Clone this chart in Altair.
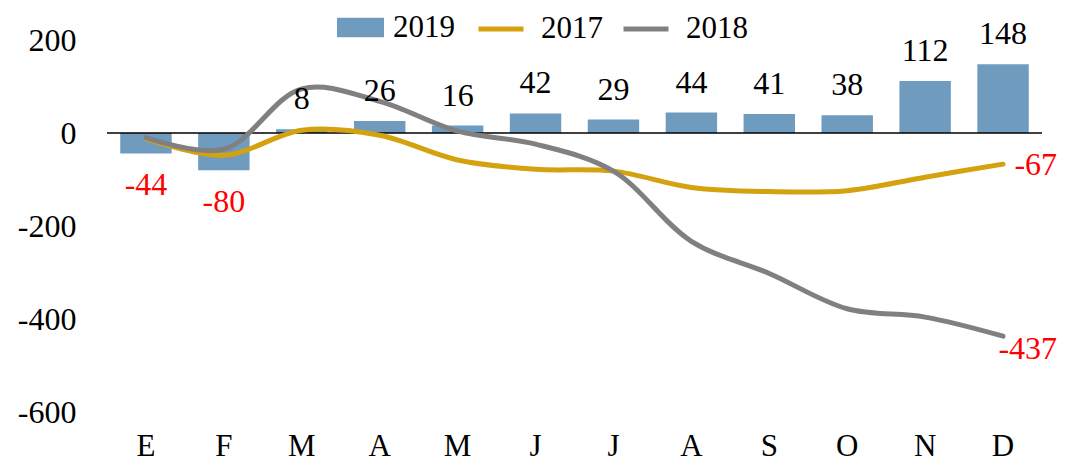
import json
import altair as alt
import pandas as pd

month_labels = ["E", "F", "M", "A", "M", "J", "J", "A", "S", "O", "N", "D"]
values_2019 = [-44, -80, 8, 26, 16, 42, 29, 44, 41, 38, 112, 148]
values_2017 = [-12, -48, 6, -5, -58, -78, -82, -117, -126, -124, -95, -67]
values_2018 = [-10, -35, 95, 68, 4, -24, -82, -233, -302, -378, -396, -437]
bar_series = ["2019"]
line_series = ["2017", "2018"]
bar_color = ["#6F9BBF"]
line_colors = ["#D4A20E", "#808080"]
y_ticks = [200, 0, -200, -400, -600]

FONT = "'Liberation Serif', 'Times New Roman', 'DejaVu Serif', serif"
idx = list(range(1, len(month_labels) + 1))

bars = pd.DataFrame({"idx": idx, "value": values_2019, "serie": bar_series[0]})
lines = pd.DataFrame({
    "idx": idx * 2,
    "value": values_2017 + values_2018,
    "serie": [line_series[0]] * len(idx) + [line_series[1]] * len(idx),
})
zero = pd.DataFrame({"y": [0]})

x_enc = alt.X(
    "idx:O",
    scale=alt.Scale(paddingInner=0.34, paddingOuter=0.17),
    axis=alt.Axis(
        title=None, labelAngle=0, ticks=False, domain=False, labelPadding=43,
        labelBaseline="alphabetic",
        labelFontSize=31, labelFont=FONT, labelColor="black",
        labelExpr=f"{json.dumps(month_labels)}[datum.value - 1]",
    ),
)
y_scale = alt.Scale(domain=[-600, 200], nice=False)
y_enc = alt.Y(
    "value:Q",
    scale=y_scale,
    axis=alt.Axis(
        title=None, values=y_ticks, ticks=False, domain=False, grid=False,
        labelPadding=31, labelFontSize=32, labelFont=FONT, labelColor="black",
        labelExpr="'' + datum.value",
    ),
)

bar_layer = alt.Chart(bars).mark_bar().encode(
    x=x_enc,
    y=y_enc,
    fill=alt.Fill(
        "serie:N",
        scale=alt.Scale(domain=bar_series, range=bar_color),
        legend=alt.Legend(
            title=None, orient="none", legendX=230, legendY=-36, padding=0,
            symbolType="M-1,-0.42H1V0.42H-1Z", symbolSize=2209, symbolStrokeWidth=0,
            labelFont=FONT, labelFontSize=31, labelOffset=9, labelColor="black",
        ),
    ),
)

zero_layer = alt.Chart(zero).mark_rule(color="black", strokeWidth=1.5).encode(
    y=alt.Y("y:Q", scale=y_scale)
)

line_layer = alt.Chart(lines).mark_line(
    interpolate="catmull-rom", strokeWidth=5, strokeCap="round"
).encode(
    x=alt.X("idx:O"),
    y=alt.Y("value:Q", scale=y_scale),
    stroke=alt.Stroke(
        "serie:N",
        scale=alt.Scale(domain=line_series, range=line_colors),
        legend=alt.Legend(
            title=None, orient="none", legendX=369, legendY=-36, padding=0,
            direction="horizontal", columns=2,
            symbolType="stroke", symbolSize=2025, symbolStrokeWidth=5,
            labelFont=FONT, labelFontSize=31, labelOffset=15, columnPadding=10,
            labelColor="black",
        ),
    ),
)

pos_labels = alt.Chart(bars).transform_filter("datum.value >= 0").transform_calculate(
    lab="'' + datum.value"
).mark_text(font=FONT, fontSize=32, dy=-30, color="black", baseline="middle").encode(
    x=alt.X("idx:O"), y=alt.Y("value:Q", scale=y_scale), text="lab:N"
)
neg_labels = alt.Chart(bars).transform_filter("datum.value < 0").transform_calculate(
    lab="'' + datum.value"
).mark_text(font=FONT, fontSize=32, dy=32, color="#FF0000", baseline="middle").encode(
    x=alt.X("idx:O"), y=alt.Y("value:Q", scale=y_scale), text="lab:N"
)

last = len(month_labels)
end_2017 = alt.Chart(lines).transform_filter(
    f"datum.idx == {last} && datum.serie == '{line_series[0]}'"
).transform_calculate(lab="'' + datum.value").mark_text(
    font=FONT, fontSize=32, dx=54, dy=1, align="right", baseline="middle", color="#FF0000"
).encode(x=alt.X("idx:O"), y=alt.Y("value:Q", scale=y_scale), text="lab:N")

end_2018 = alt.Chart(lines).transform_filter(
    f"datum.idx == {last} && datum.serie == '{line_series[1]}'"
).transform_calculate(lab="'' + datum.value").mark_text(
    font=FONT, fontSize=32, dx=54, dy=13, align="right", baseline="middle", color="#FF0000"
).encode(x=alt.X("idx:O"), y=alt.Y("value:Q", scale=y_scale), text="lab:N")

chart = alt.layer(
    bar_layer, zero_layer, line_layer, pos_labels, neg_labels, end_2017, end_2018
).resolve_scale(fill="independent", stroke="independent").properties(
    width=935,
    height=372,
    padding={"left": 99, "top": 32, "right": 16, "bottom": 49},
    autosize=alt.AutoSizeParams(type="none"),
    background="white",
).configure_view(stroke=None)

chart.save("out.html", embed_options={"renderer": "svg", "actions": False})
